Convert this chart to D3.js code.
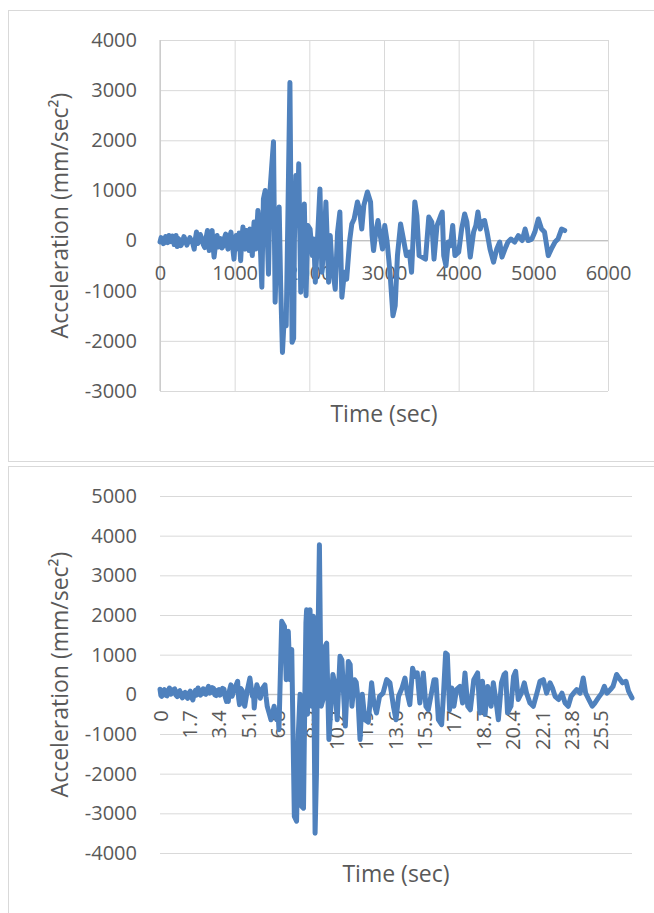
<!DOCTYPE html>
<html>
<head>
<meta charset="utf-8">
<script src="https://cdn.jsdelivr.net/npm/d3@7/dist/d3.min.js"></script>
<style>
body{margin:0;background:#fff;}
svg text{font-family:"Open Sans",sans-serif;fill:#595959;}
</style>
</head>
<body>
<div id="chart_wrap"></div>
<script>
// top record: sample index / acceleration
var topSamples = [0,15,30,45,60,75,90,105,120,135,150,165,180,190,200,215,230,245,260,280,300,320,340,360,380,400,420,440,458,475,
	489,505,520,540,560,580,600,618,636,648,660,680,698,712,724,738,750,765,780,795,810,830,850,865,880,895,910,930,950,970,
	991,1005,1020,1032,1045,1060,1080,1095,1111,1125,1140,1160,1180,1192,1205,1220,1236,1248,1260,1270,1282,1296,1311,1335,1364,1385,1409,1430,1453,1475,
	1497,1520,1542,1570,1596,1615,1640,1665,1690,1715,1740,1769,1790,1800,1820,1840,1858,1885,1905,1933,1956,1980,2010,2040,2060,2080,2105,2142,2168,2200,
	2222,2258,2280,2300,2347,2378,2409,2436,2470,2500,2540,2569,2600,2644,2670,2702,2730,2778,2820,2840,2860,2890,2920,2950,2980,3010,3040,3080,3120,3150,
	3180,3222,3260,3300,3340,3369,3413,3440,3470,3510,3556,3600,3640,3670,3710,3760,3780,3800,3830,3860,3890,3920,3950,4000,4040,4080,4110,4155,4200,4230,
	4258,4290,4310,4347,4380,4420,4467,4510,4550,4580,4620,4660,4700,4750,4800,4850,4890,4930,4980,5020,5067,5110,5150,5200,5240,5290,5330,5378,5420];
var topAccel = [-30,60,20,-60,-40,80,40,-40,100,30,-20,90,30,-80,60,100,-120,40,20,-100,-40,80,10,-90,-20,60,0,-60,-170,50,
	170,-60,-20,120,40,-80,-140,60,200,-50,-200,100,200,-100,-330,-150,0,100,-130,-20,40,-150,-100,60,130,-50,-170,60,170,-100,
	-370,-50,100,-60,-170,150,-400,0,270,-50,-170,200,0,-200,230,-50,-300,100,370,50,-170,200,600,230,-930,830,1000,370,-670,1030,
	1500,1970,-1230,200,670,-830,-2230,-1500,-1700,700,3150,-2030,-1950,0,1300,300,1530,-1030,0,730,-1100,300,230,-300,30,-830,-100,1030,-630,0,
	770,-830,100,-430,-970,170,570,-1130,-630,-770,0,330,430,770,630,230,700,970,770,100,-200,170,400,100,-170,300,0,-630,-1500,-1300,
	-300,330,30,-300,-230,-630,770,500,-300,-330,-370,470,370,-370,300,500,570,-300,-500,-30,-100,300,-300,-230,230,530,370,-330,170,300,
	570,230,370,400,170,-170,-430,-170,-30,-330,-170,-30,30,-30,100,0,230,0,30,170,430,230,170,-300,-170,-30,30,230,200];
var topXTicks = [0,1000,2000,3000,4000,5000,6000];
var topYTicks = [-3000,-2000,-1000,0,1000,2000,3000,4000];

// bottom record: time (sec) / acceleration
var bottomTime = [0,0.05,0.1,0.17,0.25,0.32,0.4,0.47,0.55,0.62,0.7,0.78,0.85,0.92,1.0,1.07,1.15,1.22,1.3,1.37,1.45,1.52,1.6,1.67,1.75,1.82,1.9,1.97,2.05,2.12,
	2.2,2.27,2.35,2.42,2.5,2.57,2.65,2.72,2.8,2.87,2.95,3.02,3.1,3.17,3.25,3.32,3.4,3.47,3.55,3.62,3.7,3.77,3.85,3.9,3.95,4.02,4.1,4.17,4.25,4.37,
	4.49,4.55,4.6,4.67,4.75,4.82,4.9,5.05,5.2,5.28,5.35,5.4,5.45,5.52,5.6,5.7,5.8,5.93,6.07,6.13,6.2,6.3,6.42,6.5,6.6,6.68,6.75,6.82,6.88,7.04,
	7.2,7.3,7.42,7.52,7.62,7.77,7.9,8.0,8.1,8.19,8.3,8.38,8.44,8.48,8.53,8.6,8.64,8.68,8.72,8.77,8.82,8.87,8.97,9.05,9.1,9.22,9.32,9.45,9.55,9.64,
	9.77,9.9,10.0,10.1,10.25,10.41,10.52,10.62,10.72,10.89,11.0,11.1,11.25,11.35,11.45,11.57,11.7,11.85,12.05,12.24,12.37,12.52,12.7,12.9,13.11,13.3,13.5,13.65,13.8,14.0,
	14.17,14.3,14.45,14.61,14.75,14.88,15.03,15.23,15.38,15.52,15.7,15.85,15.96,16.1,16.29,16.4,16.52,16.62,16.75,16.88,17.0,17.15,17.35,17.5,17.64,17.8,17.95,18.15,18.37,18.5,
	18.65,18.8,18.95,19.15,19.28,19.45,19.57,19.75,19.9,19.99,20.1,20.3,20.45,20.57,20.72,20.9,21.07,21.2,21.4,21.59,21.8,21.98,22.17,22.36,22.56,22.7,22.85,23.05,23.25,23.43,
	23.61,23.78,23.92,24.1,24.3,24.48,24.62,24.8,25.0,25.15,25.35,25.55,25.7,25.85,26.05,26.2,26.41,26.55,26.75,26.95,27.1,27.3];
var bottomAccel = [130,-30,-50,80,120,-20,-40,90,160,0,30,120,140,-20,-60,60,90,-30,-90,20,50,-60,-100,30,80,-60,-140,0,100,-20,
	160,40,-20,80,140,20,0,120,200,30,50,170,150,-10,-30,100,120,-20,20,150,130,-60,-180,30,-180,100,240,-50,60,200,
	330,-100,-260,150,100,-150,-300,100,410,150,-50,100,-345,0,240,100,-100,150,240,-50,-300,-450,-640,-500,-300,-500,-640,-400,-890,1840,
	1710,370,1590,370,1130,-3080,-3200,-1000,0,-2820,-2870,0,1800,2130,-500,2050,0,2130,1000,-300,1500,1970,-3500,-2000,300,3770,-300,-100,1210,1290,
	-1140,-200,500,300,-640,960,870,0,-800,830,750,-300,370,300,-100,-1140,0,-640,-700,290,-220,-470,-50,30,370,290,-300,-640,-50,160,
	410,30,-260,660,450,540,-220,540,-300,-390,30,370,370,-640,-765,30,1040,1000,-390,160,-300,120,200,-220,540,-300,-390,370,540,-470,
	330,-510,200,-300,290,-220,-640,290,500,540,-470,-300,450,580,-130,30,290,30,-220,-300,30,330,370,30,290,160,-50,-130,30,-220,
	-300,-50,30,120,30,410,30,-130,-300,-220,-90,30,200,30,120,200,500,410,290,330,80,-90];
var bottomXTicks = [0,1.7,3.4,5.1,6.8,8.5,10.2,11.9,13.6,15.3,17,18.7,20.4,22.1,23.8,25.5];
var bottomXLabels = ['0','1.7','3.4','5.1','6.8','8.5','10.2','11.9','13.6','15.3','17','18.7','20.4','22.1','23.8','25.5'];
var bottomYTicks = [-4000,-3000,-2000,-1000,0,1000,2000,3000,4000,5000];

var lineColor = '#4f81bd';
var gridColor = '#d9d9d9';
var axisColor = '#bfbfbf';

var svg = d3.select('#chart_wrap').append('svg')
	.attr('width',654)
	.attr('height',913);

// chart frames
svg.append('rect')
	.attr('x',8.5).attr('y',10.5).attr('width',700).attr('height',451)
	.attr('fill','#fff').attr('stroke',gridColor);
svg.append('rect')
	.attr('x',8.5).attr('y',466.5).attr('width',700).attr('height',500)
	.attr('fill','#fff').attr('stroke',gridColor);

var drawChart = function(o){
	var g = svg.append('g');
	var x = o.x, y = o.y;
	var left = x.range()[0], right = x.range()[1];
	var bottom = y.range()[0], top = y.range()[1];

	// horizontal gridlines
	g.append('g')
		.attr('transform','translate('+left+',0)')
		.call(d3.axisLeft(y).tickValues(o.yTicks).tickSize(-(right-left)).tickFormat(''))
		.call(function(a){
			a.select('.domain').remove();
			a.selectAll('line').attr('stroke',gridColor);
		});
	// vertical gridlines
	if(o.vGrid){
		g.append('g')
			.attr('transform','translate(0,'+bottom+')')
			.call(d3.axisBottom(x).tickValues(o.xTicks).tickSize(-(bottom-top)).tickFormat(''))
			.call(function(a){
				a.select('.domain').remove();
				a.selectAll('line').attr('stroke',gridColor);
			});
		g.append('line')
			.attr('x1',left).attr('x2',left).attr('y1',top).attr('y2',bottom)
			.attr('stroke',axisColor);
	}
	// zero axis line
	g.append('line')
		.attr('x1',left).attr('x2',right).attr('y1',y(0)).attr('y2',y(0))
		.attr('stroke',axisColor);

	// y tick labels
	g.append('g')
		.attr('transform','translate('+left+',0)')
		.call(d3.axisLeft(y).tickValues(o.yTicks).tickSize(0).tickPadding(23)
			.tickFormat(function(d){ return String(d); }))
		.call(function(a){
			a.select('.domain').remove();
			a.attr('font-family',null).attr('font-size',null);
			a.selectAll('text').style('font-size','20px').attr('fill','#595959');
		});

	// x tick labels sit on the zero line
	var xa = g.append('g')
		.attr('transform','translate(0,'+y(0)+')')
		.call(d3.axisBottom(x).tickValues(o.xTicks).tickSize(0)
			.tickFormat(function(d,i){ return o.xLabels ? o.xLabels[i] : String(d); }))
		.call(function(a){
			a.select('.domain').remove();
			a.attr('font-family',null).attr('font-size',null);
			a.selectAll('text').style('font-size','20px').attr('fill','#595959');
		});
	if(o.rotate){
		xa.selectAll('text')
			.attr('transform','translate(0,'+o.labelGap+') rotate(-90)')
			.attr('y',0).attr('dy','0.35em')
			.attr('text-anchor','end');
	}else{
		xa.selectAll('text').attr('y',o.labelGap).attr('dy','0.35em');
	}

	// axis titles
	g.append('text')
		.attr('transform','translate(60,'+((top+bottom)/2)+') rotate(-90)')
		.attr('text-anchor','middle').attr('dy','0.35em')
		.style('font-size','23px')
		.text('Acceleration (mm/sec²)');
	g.append('text')
		.attr('x',(left+right)/2).attr('y',o.titleY)
		.attr('text-anchor','middle').attr('dy','0.35em')
		.style('font-size','23px')
		.text('Time (sec)');

	// acceleration trace
	var line = d3.line()
		.x(function(d){ return x(d[0]); })
		.y(function(d){ return y(d[1]); });
	g.append('path')
		.datum(d3.zip(o.t, o.a))
		.attr('d',line)
		.attr('fill','none')
		.attr('stroke',lineColor)
		.attr('stroke-width',5)
		.attr('stroke-linejoin','round')
		.attr('stroke-linecap','round');
};

drawChart({
	x: d3.scaleLinear().domain([0,6000]).range([160,608]),
	y: d3.scaleLinear().domain([-3000,4000]).range([391,40]),
	xTicks: topXTicks,
	yTicks: topYTicks,
	vGrid: true,
	labelGap: 32,
	titleY: 414,
	t: topSamples,
	a: topAccel
});

drawChart({
	x: d3.scaleLinear().domain([0,27.3]).range([160,632]),
	y: d3.scaleLinear().domain([-4000,5000]).range([853,496]),
	xTicks: bottomXTicks,
	xLabels: bottomXLabels,
	yTicks: bottomYTicks,
	vGrid: false,
	rotate: true,
	labelGap: 16,
	titleY: 874,
	t: bottomTime,
	a: bottomAccel
});
</script>
</body>
</html>
